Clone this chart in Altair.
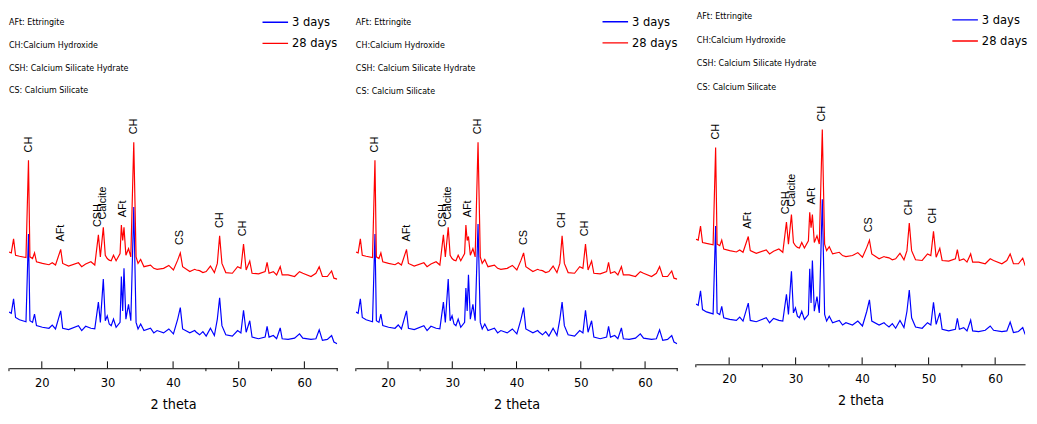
import altair as alt
import numpy as np
import pandas as pd

# 2-theta positions (degrees)
THETA = [15.00, 15.35, 15.70, 16.00, 16.60, 17.59, 17.97, 18.19, 18.59, 18.89,
         19.19, 20.09, 21.09, 21.59, 22.09, 22.88, 23.18, 24.08, 25.58, 26.08,
         26.68, 27.48, 28.07, 28.62, 28.92, 29.37, 29.67, 29.97, 30.27, 30.57,
         30.92, 31.32, 31.92, 32.12, 32.32, 32.52, 32.81, 33.21, 33.56, 34.01,
         34.36, 34.66, 35.06, 35.56, 36.56, 37.06, 37.56, 38.55, 39.35, 40.05,
         40.70, 41.10, 41.45, 42.55, 43.29, 43.54, 44.04, 44.54, 45.04, 45.69,
         46.29, 46.74, 47.09, 47.44, 48.03, 49.03, 49.83, 50.33, 50.73, 51.13,
         51.68, 52.03, 53.02, 54.02, 54.32, 54.62, 55.27, 55.77, 56.32, 56.62,
         57.52, 58.51, 59.26, 59.76, 61.01, 61.76, 62.26, 62.75, 63.50, 64.15,
         64.50, 65.00]

# intensity (a.u.) of the 3-day pattern
BLUE_3D = [172, 168, 212, 155, 148, 142, 410, 145, 140, 165,
           130, 125, 122, 132, 120, 175, 122, 118, 130, 115,
           128, 122, 120, 202, 140, 272, 145, 160, 135, 130,
           150, 125, 140, 280, 175, 305, 150, 195, 145, 492,
           140, 120, 135, 115, 122, 108, 115, 108, 120, 105,
           150, 185, 120, 108, 115, 110, 102, 112, 98, 122,
           100, 150, 215, 130, 102, 98, 115, 108, 177, 110,
           145, 95, 90, 95, 128, 95, 100, 90, 123, 90,
           88, 92, 105, 92, 88, 90, 117, 85, 88, 100,
           80, 75]

# intensity (a.u.) of the 28-day pattern (before vertical offset)
RED_28D = [175, 172, 215, 165, 162, 158, 455, 160, 155, 172,
           145, 140, 136, 142, 135, 183, 140, 132, 142, 130,
           138, 145, 135, 227, 160, 250, 165, 155, 150, 148,
           165, 148, 170, 257, 210, 250, 165, 185, 160, 510,
           160, 140, 152, 130, 135, 125, 122, 125, 134, 120,
           150, 172, 130, 115, 122, 120, 118, 112, 115, 132,
           112, 140, 224, 140, 112, 110, 130, 125, 199, 120,
           147, 110, 108, 115, 143, 110, 115, 105, 130, 105,
           105, 100, 115, 110, 100, 110, 130, 100, 100, 117,
           95, 92]

# values that differ in the middle panel
P2_BLUE_EDITS = {32.12: 245, 32.52: 285, 34.01: 440, 47.09: 202}
P2_RED_EDITS = {32.52: 222}

PEAK_THETA = [18.0, 22.9, 28.6, 29.4, 32.4, 34.0, 41.1, 47.1, 50.7]
PEAK_NAME = ["CH", "AFt", "CSH", "Calcite", "AFt", "CH", "CS", "CH", "CH"]

NOTES = ["AFt: Ettringite", "CH:Calcium Hydroxide",
         "CSH: Calcium Silicate Hydrate", "CS: Calcium Silicate"]
SERIES = ["3 days", "28 days"]
COLORS = ["#0000ff", "#ff0000"]
MAJOR = [20, 30, 40, 50, 60]
MINOR_FULL = [15, 25, 35, 45, 55, 65]
MINOR_CUT = [15, 25, 35, 45, 55]

NARROW = "Liberation Sans Narrow, DejaVu Sans Condensed, Liberation Sans, sans-serif"
REG = "Liberation Sans, Arial, sans-serif"


def edited(vals, edits):
    out = list(vals)
    for t, v in edits.items():
        out[THETA.index(t)] = v
    return out


def panel(blue, red, red_offset, width, height, ydom, xmax, minor,
          legend_x, legend_y, notes_x, notes_y, line_h):
    n = len(THETA)
    df = pd.DataFrame({
        "theta": THETA * 2,
        "intensity": list(blue) + [r + red_offset for r in red],
        "series": [SERIES[0]] * n + [SERIES[1]] * n,
    })
    th = np.array(THETA)
    rd = np.array(red) + red_offset
    peak_y = [float(rd[np.abs(th - t) <= 0.35].max()) + 24 for t in PEAK_THETA]
    peaks = pd.DataFrame({"theta": PEAK_THETA, "intensity": peak_y, "name": PEAK_NAME})

    x = alt.X("theta:Q", title="2 theta",
              scale=alt.Scale(domain=[15, xmax], nice=False, zero=False),
              axis=alt.Axis(values=MAJOR, ticks=False, labelPadding=9, titlePadding=8,
                            grid=False, labelFont=NARROW, labelFontSize=13,
                            titleFont=NARROW, titleFontSize=14.5, titleFontWeight="normal",
                            labelColor="black", titleColor="black",
                            domainColor="black", domainWidth=1))
    y = alt.Y("intensity:Q", scale=alt.Scale(domain=ydom, nice=False, zero=False), axis=None)

    lines = alt.Chart(df).mark_line(strokeWidth=1.2, clip=True).encode(
        x=x, y=y,
        color=alt.Color("series:N", sort=SERIES,
                        scale=alt.Scale(domain=SERIES, range=COLORS),
                        legend=alt.Legend(orient="none", legendX=legend_x, legendY=legend_y,
                                          title=None, symbolType="stroke", symbolSize=676,
                                          symbolStrokeWidth=1.5, clipHeight=15, rowPadding=6.4,
                                          labelFont=NARROW, labelFontSize=13, labelOffset=3,
                                          labelColor="black", padding=0)),
    )
    major_rules = alt.Chart(pd.DataFrame({"theta": MAJOR})).mark_rule(
        color="black", strokeWidth=1).encode(
        x="theta:Q", y=alt.value(height), y2=alt.value(height - 7))
    minor_rules = alt.Chart(pd.DataFrame({"theta": minor})).mark_rule(
        color="black", strokeWidth=1).encode(
        x="theta:Q", y=alt.value(height), y2=alt.value(height + 3))
    labels = alt.Chart(peaks).mark_text(
        angle=270, align="left", baseline="middle", font=REG, fontSize=11, color="black").encode(
        x="theta:Q", y="intensity:Q", text="name:N")
    notes = alt.Chart(pd.DataFrame({"note": ["\n".join(NOTES)]})).mark_text(
        align="left", baseline="top", lineBreak="\n", lineHeight=line_h,
        font=NARROW, fontSize=9, color="black").encode(
        x=alt.value(notes_x), y=alt.value(notes_y), text="note:N")
    return alt.layer(lines, major_rules, minor_rules, labels, notes).properties(
        width=width, height=height)


p1 = panel(BLUE_3D, RED_28D, 180, 334, 362, [0, 1086], 65, MINOR_FULL,
           257, 2.5, 0, 5.5, 23.3)
p2 = panel(edited(BLUE_3D, P2_BLUE_EDITS), edited(RED_28D, P2_RED_EDITS), 180, 327, 362,
           [0, 1086], 65, MINOR_FULL, 250, 2.0, 0, 5.5, 23.5)
p3 = panel(BLUE_3D, RED_28D, 195, 335, 358, [-12, 1062], 64.5, MINOR_CUT,
           260, 0, 1, 0, 23.9)

chart = alt.hconcat(p1, p2, p3, spacing=16, padding=0).resolve_scale(
    x="independent", y="independent", color="independent").resolve_legend(
    color="independent").configure_view(stroke="transparent")

chart.save("out.html", embed_options={"renderer": "svg", "actions": False})
